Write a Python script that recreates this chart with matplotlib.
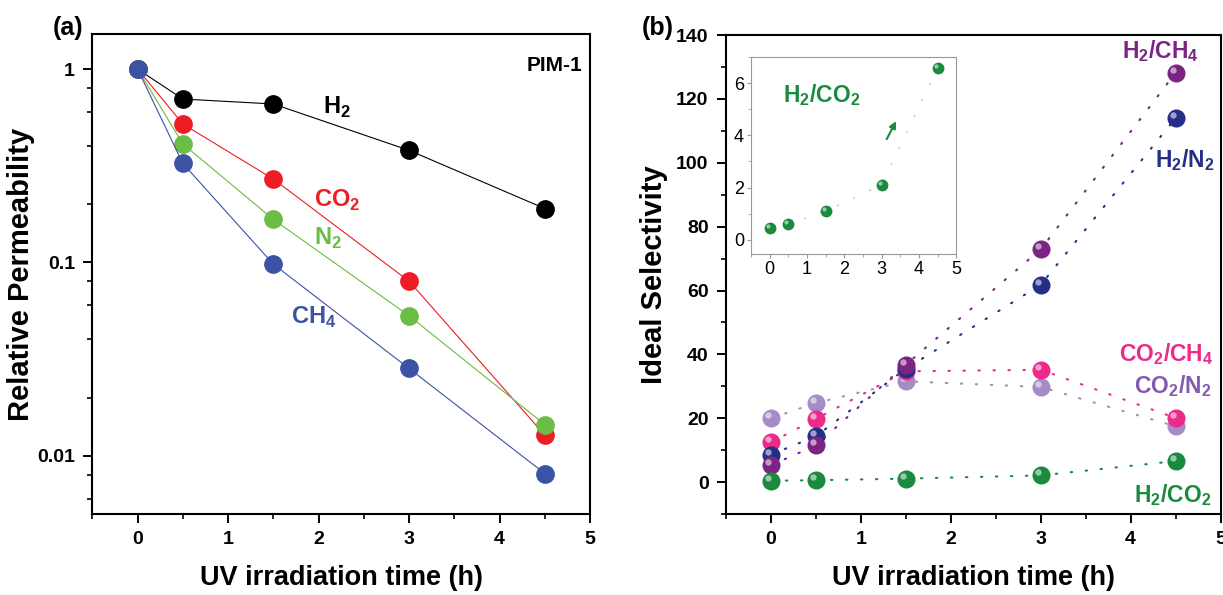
import matplotlib

matplotlib.use("Agg")
import matplotlib.pyplot as plt
from matplotlib.ticker import FixedLocator, MultipleLocator, NullFormatter

plt.rcParams["font.family"] = ["Liberation Sans", "DejaVu Sans"]
plt.rcParams["mathtext.fontset"] = "custom"
plt.rcParams["mathtext.rm"] = "Liberation Sans:bold"
plt.rcParams["mathtext.bf"] = "Liberation Sans:bold"

# ---- data -------------------------------------------------------------
time_h = [0, 0.5, 1.5, 3, 4.5]

# (a) relative permeability
perm_h2 = [1.0, 0.70, 0.66, 0.38, 0.19]
perm_co2 = [1.0, 0.52, 0.27, 0.080, 0.0128]
perm_n2 = [1.0, 0.41, 0.167, 0.053, 0.0145]
perm_ch4 = [1.0, 0.325, 0.098, 0.0283, 0.0081]

# (b) ideal selectivity
sel_h2_ch4 = [5.3, 11.5, 36.8, 72.9, 128.2]
sel_h2_n2 = [8.6, 14.4, 35.5, 61.8, 114.0]
sel_co2_ch4 = [12.5, 19.8, 34.7, 35.2, 20.1]
sel_co2_n2 = [20.0, 24.8, 31.6, 29.8, 17.5]
sel_h2_co2 = [0.45, 0.6, 1.1, 2.1, 6.6]

# ---- style ------------------------------------------------------------
C_H2, C_CO2, C_N2, C_CH4 = "black", "#ee1c25", "#6abd45", "#3a53a4"
C_HCH4, C_HN2, C_CCH4, C_CN2, C_HCO2 = "#7b2483", "#262f86", "#ec2a8a", "#a68cc6", "#1a8a3e"


def sphere(ax, x, y, color, size=13):
    ax.plot(x, y, "o", ms=size, color=color, mec="none")
    shift = matplotlib.transforms.ScaledTranslation(-size * 0.17 / 72, size * 0.17 / 72,
                                                    ax.figure.dpi_scale_trans)
    ax.plot(x, y, "o", ms=size * 0.35, color="white", alpha=0.55, mec="none",
            transform=ax.transData + shift)


fig = plt.figure(figsize=(12.23, 5.95), dpi=100)

# ---- panel (a) --------------------------------------------------------
ax = fig.add_axes([0.0755, 0.136, 0.407, 0.807])
for vals, c in [(perm_h2, C_H2), (perm_co2, C_CO2), (perm_n2, C_N2), (perm_ch4, C_CH4)]:
    ax.plot(time_h, vals, "-", color=c, lw=0.8)
    ax.plot(time_h, vals, "o", color=c, ms=13.5, mec="none")
ax.set_yscale("log")
ax.set_xlim(-0.5, 5)
ax.set_ylim(0.005, 1.52)
ax.yaxis.set_major_locator(FixedLocator([0.01, 0.1, 1]))
ax.set_yticklabels(["0.01", "0.1", "1"])
ax.yaxis.set_minor_locator(FixedLocator([0.006, 0.008, 0.02, 0.04, 0.06, 0.08, 0.2, 0.4, 0.6, 0.8]))
ax.yaxis.set_minor_formatter(NullFormatter())
ax.xaxis.set_major_locator(MultipleLocator(1))
ax.xaxis.set_minor_locator(MultipleLocator(0.5))
ax.text(2.2, 0.63, r"H$_\mathbf{2}$", color=C_H2, fontsize=17, fontweight="bold", ha="center", va="center")
ax.text(2.2, 0.21, r"CO$_\mathbf{2}$", color=C_CO2, fontsize=17, fontweight="bold", ha="center", va="center")
ax.text(2.1, 0.133, r"N$_\mathbf{2}$", color=C_N2, fontsize=17, fontweight="bold", ha="center", va="center")
ax.text(1.95, 0.052, r"CH$_\mathbf{4}$", color=C_CH4, fontsize=17, fontweight="bold", ha="center", va="center")
ax.text(0.985, 0.955, "PIM-1", transform=ax.transAxes, fontsize=15, fontweight="bold", ha="right", va="top")
ax.set_xlabel("UV irradiation time (h)", fontsize=19.5, fontweight="bold", labelpad=12)
ax.set_ylabel("Relative Permeability", fontsize=21, fontweight="bold")
ax.yaxis.set_label_coords(-0.116, 0.5)
fig.text(0.043, 0.953, "(a)", fontsize=18, fontweight="bold", va="center")

# ---- panel (b) --------------------------------------------------------
bx = fig.add_axes([0.5936, 0.136, 0.4044, 0.805])
series_b = [(sel_co2_n2, C_CN2), (sel_co2_ch4, C_CCH4), (sel_h2_n2, C_HN2),
            (sel_h2_ch4, C_HCH4), (sel_h2_co2, C_HCO2)]
for vals, c in series_b:
    bx.plot(time_h, vals, color=c, lw=1.5, ls=(0, (0.7, 6.5)), dash_capstyle="round")
for vals, c in series_b:
    sphere(bx, time_h, vals, c, size=13)
bx.set_xlim(-0.5, 5)
bx.set_ylim(-10, 140)
bx.xaxis.set_major_locator(MultipleLocator(1))
bx.xaxis.set_minor_locator(MultipleLocator(0.5))
bx.yaxis.set_major_locator(MultipleLocator(20))
bx.yaxis.set_minor_locator(MultipleLocator(10))
bx.text(4.33, 135, r"H$_\mathbf{2}$/CH$_\mathbf{4}$", color=C_HCH4, fontsize=16.5, fontweight="bold", ha="center", va="center")
bx.text(4.6, 101, r"H$_\mathbf{2}$/N$_\mathbf{2}$", color=C_HN2, fontsize=16.5, fontweight="bold", ha="center", va="center")
bx.text(4.4, 40, r"CO$_\mathbf{2}$/CH$_\mathbf{4}$", color=C_CCH4, fontsize=16.5, fontweight="bold", ha="center", va="center")
bx.text(4.47, 30, r"CO$_\mathbf{2}$/N$_\mathbf{2}$", color="#8559ad", fontsize=16.5, fontweight="bold", ha="center", va="center")
bx.text(4.47, -4, r"H$_\mathbf{2}$/CO$_\mathbf{2}$", color=C_HCO2, fontsize=16.5, fontweight="bold", ha="center", va="center")
bx.set_xlabel("UV irradiation time (h)", fontsize=19.5, fontweight="bold", labelpad=12)
bx.set_ylabel("Ideal Selectivity", fontsize=21, fontweight="bold")
bx.yaxis.set_label_coords(-0.117, 0.5)
fig.text(0.525, 0.953, "(b)", fontsize=18, fontweight="bold", va="center")

for a in (ax, bx):
    for s in a.spines.values():
        s.set_linewidth(1.5)
    a.tick_params(which="major", direction="out", length=6.5, width=1.4, labelsize=14, pad=6)
    a.tick_params(which="minor", direction="out", length=3.5, width=1.2)
    a.tick_params(top=False, right=False, which="both")
    for lab in a.get_xticklabels() + a.get_yticklabels():
        lab.set_fontweight("bold")

# ---- inset ------------------------------------------------------------
ix = fig.add_axes([0.614, 0.573, 0.168, 0.331])
ix.plot(time_h, sel_h2_co2, color="#bbbbbb", lw=0.8, ls=(0, (2, 14)))
sphere(ix, time_h, sel_h2_co2, C_HCO2, size=8.5)
ix.set_xlim(-0.5, 5)
ix.set_ylim(-0.55, 7)
ix.xaxis.set_major_locator(MultipleLocator(1))
ix.xaxis.set_minor_locator(MultipleLocator(0.5))
ix.yaxis.set_major_locator(MultipleLocator(2))
ix.yaxis.set_minor_locator(MultipleLocator(1))
for s in ix.spines.values():
    s.set_color("#999999")
    s.set_linewidth(0.8)
ix.tick_params(which="major", direction="out", length=3, width=0.8, color="#999999", labelsize=13, pad=2)
ix.tick_params(which="minor", direction="out", length=2, width=0.6, color="#999999")
ix.text(0.35, 5.55, r"H$_\mathbf{2}$/CO$_\mathbf{2}$", color=C_HCO2, fontsize=16.5, fontweight="bold", ha="left", va="center")
ix.annotate("", xy=(3.42, 4.64), xytext=(3.1, 3.76),
            arrowprops=dict(arrowstyle="-|>", color=C_HCO2, lw=1.5, mutation_scale=10))

fig.savefig("out.png", dpi=100)
